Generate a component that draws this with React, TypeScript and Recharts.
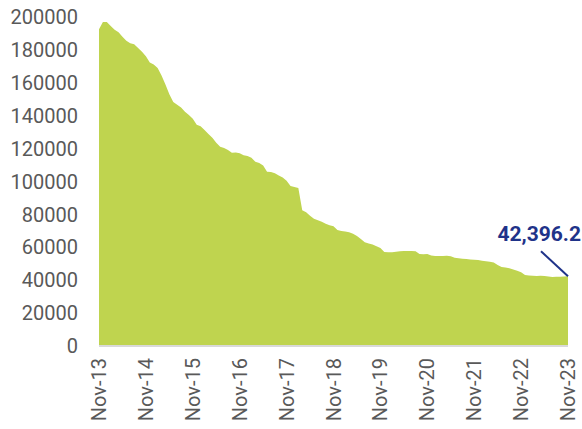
import React from "react";
import { AreaChart, Area, XAxis, YAxis, LabelList } from "recharts";

// monthly values, Nov-13 .. Nov-23
const values = [
	192500, 197000, 197000, 194500, 192300, 190700, 188000, 185500, 184000, 183500, 181200, 178800,
	176200, 172300, 171200, 169000, 164500, 159000, 153000, 148400, 146700, 145000, 142400, 140500,
	138200, 134500, 133600, 131300, 128800, 126600, 123500, 121100, 120300, 119200, 117500, 117600,
	117200, 116000, 115500, 114500, 112000, 111200, 109700, 106000, 105800, 105000, 103700, 102500,
	100500, 97300, 96700, 96000, 82500, 81300, 79200, 77300, 76500, 75500, 74300, 73400,
	72800, 70500, 69900, 69600, 69200, 68300, 66800, 65000, 63000, 62300, 61700, 60600,
	59600, 57200, 57000, 57000, 57300, 57600, 57800, 57800, 57800, 57600, 55900, 55800,
	55900, 55000, 54700, 54700, 54700, 54800, 54500, 53600, 53300, 53000, 52900, 52600,
	52400, 52300, 51800, 51500, 51200, 50800, 49300, 48000, 47700, 47300, 46500, 45800,
	44800, 43200, 42900, 42700, 42500, 42700, 42600, 42200, 42000, 42100, 42100, 42200,
	42396.2,
];

const monthNames = ["Nov", "Dec", "Jan", "Feb", "Mar", "Apr", "May", "Jun", "Jul", "Aug", "Sep", "Oct"];
const startYear = 13;

const yTicks = [0, 20000, 40000, 60000, 80000, 100000, 120000, 140000, 160000, 180000, 200000];

const labelFor = (i: number) => {
	const m = i % 12;
	const yr = startYear + Math.floor((i + 10) / 12);
	return `${monthNames[m]}-${yr}`;
};

const data = values.map((v, i) => ({ month: labelFor(i), value: v }));

const FONT = "Roboto, sans-serif";

const RotatedTick = (props: any) => {
	const { x, y, payload } = props;
	return (
		<text
			x={x}
			y={y}
			transform={`rotate(-90 ${x} ${y})`}
			textAnchor="end"
			dominantBaseline="central"
			fill="#595959"
			fontSize={20}
			fontFamily={FONT}
		>
			{payload.value}
		</text>
	);
};

const LastLabel = (props: any) => {
	const { x, y, index, value } = props;
	if (index !== values.length - 1) return null;
	return (
		<g>
			<line x1={x - 27} y1={y - 25} x2={x} y2={y} stroke="#1F3389" strokeWidth={2} />
			<text
				x={x + 13}
				y={y - 35}
				textAnchor="end"
				fill="#1F3389"
				fontSize={21}
				fontWeight="bold"
				fontFamily={FONT}
			>
				{Number(value).toLocaleString("en-US", { minimumFractionDigits: 1, maximumFractionDigits: 1 })}
			</text>
		</g>
	);
};

export default function App() {
	return (
		<div style={{ position: "absolute", left: 0, top: 0, width: 582, height: 429, background: "#fff", overflow: "hidden" }}>
			<AreaChart
				width={582}
				height={429}
				data={data}
				margin={{ top: 17, right: 14, left: 0, bottom: 0 }}
			>
				<XAxis
					dataKey="month"
					interval={11}
					height={83}
					tickSize={0}
					tickMargin={12}
					tick={<RotatedTick />}
					axisLine={{ stroke: "#D9D9D9", strokeWidth: 2 }}
					tickLine={false}
				/>
				<YAxis
					width={99}
					domain={[0, 200000]}
					ticks={yTicks}
					tickSize={0}
					tickMargin={21}
					axisLine={false}
					tickLine={false}
					tick={{ fill: "#595959", fontSize: 20, fontFamily: FONT }}
				/>
				<Area
					type="linear"
					dataKey="value"
					stroke="none"
					fill="#BFD44F"
					fillOpacity={1}
					isAnimationActive={false}
				>
					<LabelList dataKey="value" content={<LastLabel />} />
				</Area>
			</AreaChart>
		</div>
	);
}
